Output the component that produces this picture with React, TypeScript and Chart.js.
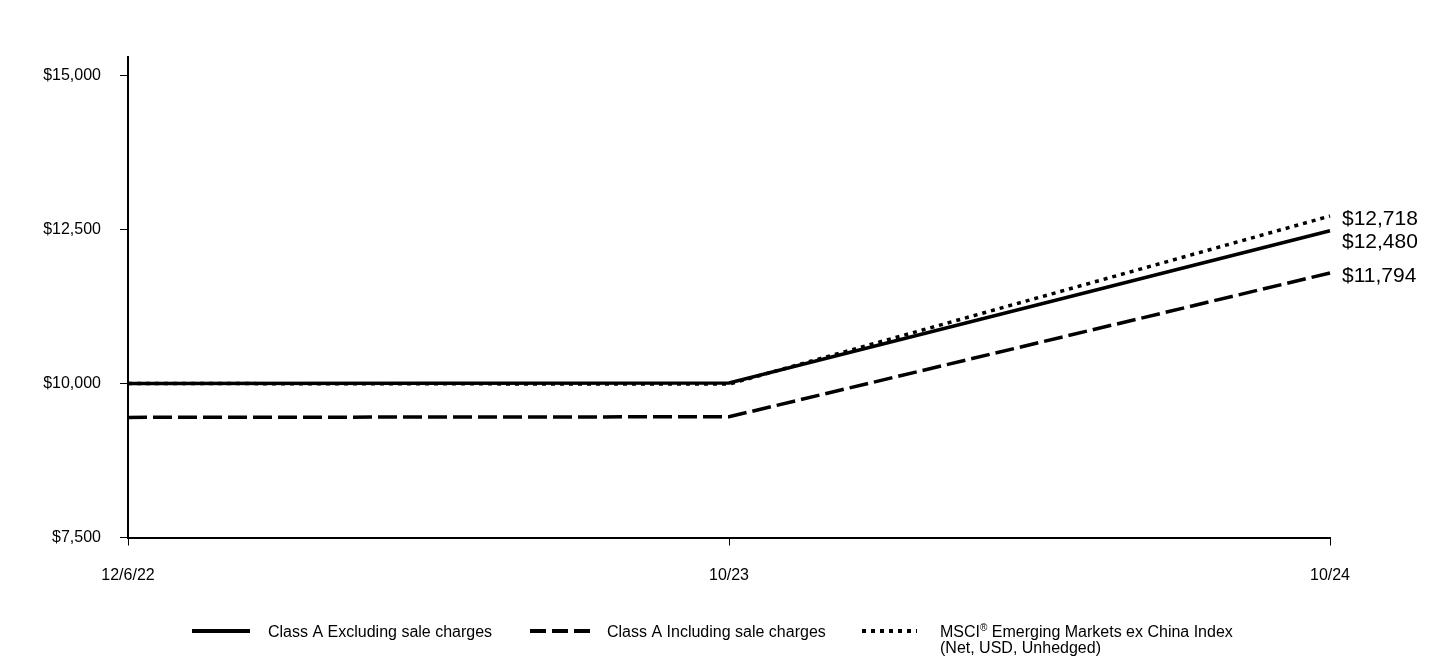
import React, { useEffect, useRef } from "react";
import { Chart, registerables } from "chart.js";

Chart.register(...registerables);

const categories = ["12/6/22", "10/23", "10/24"];
const classAExcl = [10000, 10010, 12480];
const classAIncl = [9450, 9460, 11794];
const msciIndex = [10000, 9990, 12718];
const yTicks = [7500, 10000, 12500, 15000];
const yMin = 7500;
const yMax = 15300;
const legendNames = [
  "Class A Excluding sale charges",
  "Class A Including sale charges",
  "MSCI",
];
const msciRest = " Emerging Markets ex China Index";
const msciLine2 = "(Net, USD, Unhedged)";

const FONT = "Arial, 'Liberation Sans', sans-serif";
const fmt = (v: number) => "$" + Number(v).toLocaleString("en-US");

const endLabelPlugin = {
  id: "endLabels",
  afterDatasetsDraw(chart: any) {
    const ctx = chart.ctx;
    const items = chart.data.datasets
      .map((ds: any, i: number) => {
        const meta = chart.getDatasetMeta(i);
        const pt = meta.data[meta.data.length - 1];
        return { x: pt.x, y: pt.y, text: fmt(ds.data[ds.data.length - 1]) };
      })
      .sort((a: any, b: any) => a.y - b.y);
    for (let i = 1; i < items.length; i++) {
      if (items[i].y < items[i - 1].y + 23) items[i].y = items[i - 1].y + 23;
    }
    ctx.save();
    ctx.font = `21px ${FONT}`;
    ctx.fillStyle = "#000";
    ctx.textAlign = "left";
    ctx.textBaseline = "middle";
    items.forEach((it: any) => ctx.fillText(it.text, it.x + 12, it.y + 3));
    ctx.restore();
  },
};

const legendPlugin = {
  id: "customLegend",
  afterDraw(chart: any) {
    const ctx = chart.ctx;
    const y = 631;
    ctx.save();
    ctx.strokeStyle = "#000";
    ctx.lineWidth = 4;
    ctx.lineCap = "butt";
    const samples = [
      { x0: 192, x1: 250, dash: [] as number[], tx: 268 },
      { x0: 530, x1: 590, dash: [16, 6], tx: 607 },
      { x0: 862, x1: 917, dash: [4, 5], tx: 940 },
    ];
    samples.forEach((s) => {
      ctx.setLineDash(s.dash);
      ctx.beginPath();
      ctx.moveTo(s.x0, y);
      ctx.lineTo(s.x1, y);
      ctx.stroke();
    });
    ctx.setLineDash([]);
    ctx.fillStyle = "#000";
    ctx.textBaseline = "middle";
    ctx.textAlign = "left";
    ctx.font = `16px ${FONT}`;
    const ty = y + 2;
    ctx.fillText(legendNames[0], samples[0].tx, ty);
    ctx.fillText(legendNames[1], samples[1].tx, ty);
    let x = samples[2].tx;
    ctx.fillText(legendNames[2], x, ty);
    x += ctx.measureText(legendNames[2]).width;
    ctx.font = `10px ${FONT}`;
    ctx.fillText("®", x, ty - 5);
    x += ctx.measureText("®").width;
    ctx.font = `16px ${FONT}`;
    ctx.fillText(msciRest, x, ty);
    ctx.fillText(msciLine2, samples[2].tx, ty + 16);
    ctx.restore();
  },
};

export default function App() {
  const ref = useRef<HTMLCanvasElement | null>(null);
  useEffect(() => {
    if (!ref.current) return;
    const axisGrid = {
      display: true,
      drawOnChartArea: false,
      drawTicks: true,
      tickLength: 8,
      color: "#000",
      lineWidth: 1,
    };
    const chart = new Chart(ref.current, {
      type: "line",
      data: {
        labels: categories,
        datasets: [
          {
            label: legendNames[0],
            data: classAExcl,
            borderColor: "#000",
            borderWidth: 3.5,
            pointRadius: 0,
            tension: 0,
            fill: false,
          },
          {
            label: legendNames[1],
            data: classAIncl,
            borderColor: "#000",
            borderWidth: 3.5,
            borderDash: [19, 6],
            pointRadius: 0,
            tension: 0,
            fill: false,
          },
          {
            label: legendNames[2] + "®" + msciRest,
            data: msciIndex,
            borderColor: "#000",
            borderWidth: 3.5,
            borderDash: [4, 5],
            pointRadius: 0,
            tension: 0,
            fill: false,
          },
        ],
      },
      options: {
        responsive: false,
        animation: false,
        layout: { padding: { top: 57, right: 110, bottom: 62.5, left: 0 } },
        plugins: {
          legend: { display: false },
          tooltip: { enabled: false },
        },
        scales: {
          x: {
            type: "category",
            offset: false,
            grid: axisGrid,
            border: { display: true, color: "#000", width: 2 },
            ticks: {
              color: "#000",
              font: { family: FONT, size: 16 },
              padding: 20,
              maxRotation: 0,
              autoSkip: false,
            },
            afterFit(scale: any) {
              scale.height = 60;
            },
          },
          y: {
            min: yMin,
            max: yMax,
            grid: axisGrid,
            border: { display: true, color: "#000", width: 2 },
            afterBuildTicks(scale: any) {
              scale.ticks = yTicks.map((v) => ({ value: v }));
            },
            ticks: {
              color: "#000",
              font: { family: FONT, size: 16 },
              padding: 19,
              callback: (v: any) => fmt(v),
            },
            afterFit(scale: any) {
              scale.width = 128;
            },
          },
        },
      },
      plugins: [endLabelPlugin, legendPlugin],
    } as any);
    return () => chart.destroy();
  }, []);
  return (
    <div style={{ position: "absolute", left: 0, top: 0, width: 1440, height: 660, background: "#fff" }}>
      <canvas ref={ref} width={1440} height={660} style={{ display: "block" }} />
    </div>
  );
}
